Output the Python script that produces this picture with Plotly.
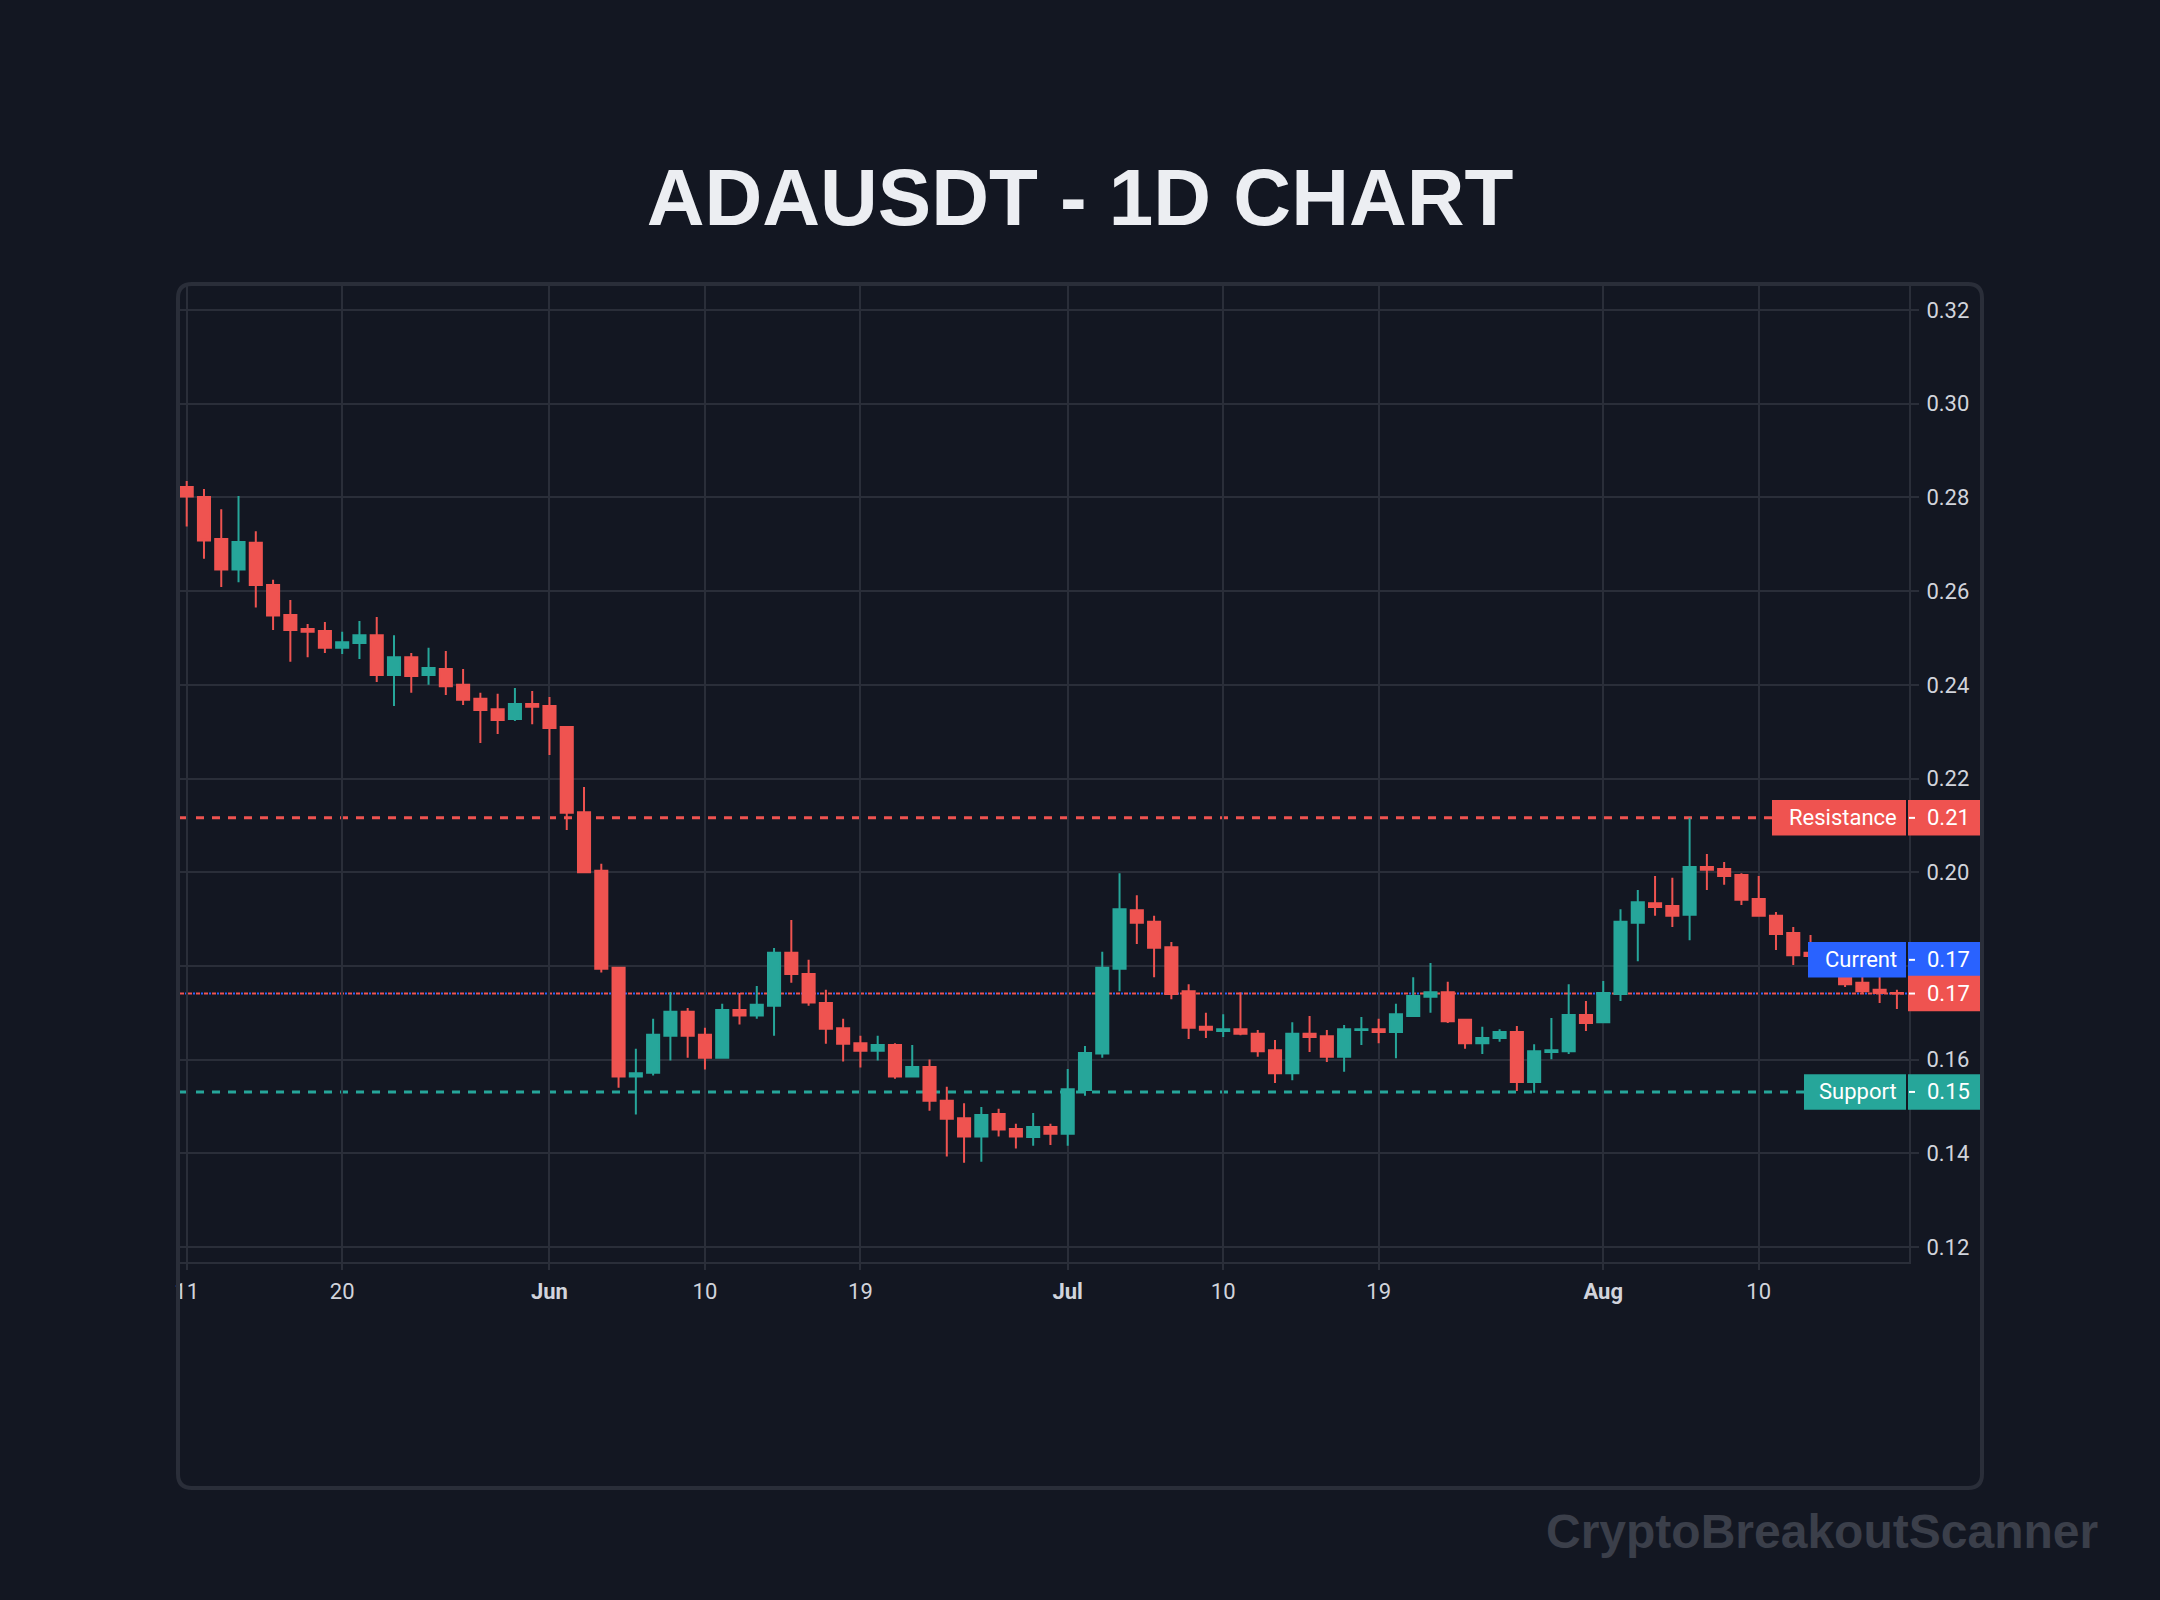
import pandas as pd
import plotly.graph_objects as go

# ---------------- data ----------------
START_DATE = "2024-05-11"
N_DAYS = 100
DATES = pd.date_range(START_DATE, periods=N_DAYS, freq="D")

OPEN = [0.2822, 0.2801, 0.2711, 0.2646, 0.2703, 0.2613, 0.2549, 0.2519, 0.2515, 0.2479,
        0.2489, 0.2506, 0.2421, 0.2459, 0.2421, 0.2434, 0.2400, 0.2370, 0.2348, 0.2327,
        0.2359, 0.2355, 0.2310, 0.2128, 0.2003, 0.1796, 0.1564, 0.1572, 0.1651, 0.1702,
        0.1653, 0.1604, 0.1706, 0.1694, 0.1715, 0.1828, 0.1783, 0.1721, 0.1667, 0.1635,
        0.1619, 0.1631, 0.1564, 0.1584, 0.1512, 0.1475, 0.1436, 0.1484, 0.1452, 0.1435,
        0.1456, 0.1442, 0.1535, 0.1613, 0.1794, 0.1919, 0.1894, 0.1840, 0.1746, 0.1670,
        0.1661, 0.1665, 0.1655, 0.1620, 0.1571, 0.1655, 0.1650, 0.1606, 0.1663, 0.1665,
        0.1659, 0.1693, 0.1734, 0.1744, 0.1685, 0.1635, 0.1646, 0.1659, 0.1552, 0.1616,
        0.1618, 0.1695, 0.1680, 0.1740, 0.1892, 0.1934, 0.1928, 0.1909, 0.2011, 0.2007,
        0.1994, 0.1943, 0.1907, 0.1870, 0.1828, 0.1823, 0.1800, 0.1764, 0.1749, 0.1742]
HIGH = [0.2835, 0.2818, 0.2775, 0.2803, 0.2728, 0.2624, 0.2581, 0.2530, 0.2534, 0.2513,
        0.2536, 0.2545, 0.2506, 0.2468, 0.2479, 0.2472, 0.2434, 0.2383, 0.2381, 0.2393,
        0.2387, 0.2374, 0.2312, 0.2182, 0.2018, 0.1796, 0.1623, 0.1687, 0.1744, 0.1710,
        0.1668, 0.1719, 0.1742, 0.1757, 0.1838, 0.1898, 0.1813, 0.1749, 0.1687, 0.1651,
        0.1651, 0.1635, 0.1631, 0.1600, 0.1542, 0.1507, 0.1499, 0.1495, 0.1463, 0.1486,
        0.1463, 0.1580, 0.1629, 0.1830, 0.1998, 0.1951, 0.1907, 0.1851, 0.1761, 0.1700,
        0.1697, 0.1744, 0.1663, 0.1642, 0.1680, 0.1693, 0.1663, 0.1674, 0.1691, 0.1687,
        0.1719, 0.1776, 0.1806, 0.1766, 0.1685, 0.1670, 0.1665, 0.1672, 0.1633, 0.1689,
        0.1761, 0.1725, 0.1768, 0.1921, 0.1962, 0.1992, 0.1988, 0.2116, 0.2039, 0.2022,
        0.1998, 0.1992, 0.1915, 0.1883, 0.1866, 0.1834, 0.1817, 0.1791, 0.1778, 0.1749]
LOW = [0.2738, 0.2669, 0.2609, 0.2619, 0.2565, 0.2517, 0.2449, 0.2459, 0.2468, 0.2466,
       0.2455, 0.2406, 0.2355, 0.2383, 0.2400, 0.2378, 0.2357, 0.2276, 0.2295, 0.2323,
       0.2316, 0.2250, 0.2090, 0.1998, 0.1786, 0.1540, 0.1483, 0.1566, 0.1598, 0.1604,
       0.1579, 0.1604, 0.1675, 0.1687, 0.1651, 0.1764, 0.1715, 0.1634, 0.1596, 0.1583,
       0.1598, 0.1559, 0.1564, 0.1491, 0.1393, 0.1380, 0.1382, 0.1436, 0.1410, 0.1416,
       0.1418, 0.1416, 0.1523, 0.1604, 0.1746, 0.1847, 0.1776, 0.1729, 0.1644, 0.1646,
       0.1648, 0.1652, 0.1606, 0.1550, 0.1556, 0.1616, 0.1595, 0.1574, 0.1631, 0.1635,
       0.1603, 0.1691, 0.1700, 0.1678, 0.1623, 0.1612, 0.1638, 0.1533, 0.1529, 0.1601,
       0.1612, 0.1661, 0.1680, 0.1725, 0.1810, 0.1907, 0.1883, 0.1855, 0.1962, 0.1973,
       0.1930, 0.1905, 0.1834, 0.1802, 0.1800, 0.1778, 0.1755, 0.1740, 0.1721, 0.1708]
CLOSE = [0.2802, 0.2708, 0.2646, 0.2705, 0.2613, 0.2548, 0.2517, 0.2513, 0.2479, 0.2491,
         0.2506, 0.2421, 0.2459, 0.2419, 0.2436, 0.2397, 0.2368, 0.2346, 0.2325, 0.2359,
         0.2353, 0.2308, 0.2127, 0.2000, 0.1794, 0.1564, 0.1571, 0.1653, 0.1702, 0.1651,
         0.1604, 0.1706, 0.1694, 0.1717, 0.1828, 0.1783, 0.1722, 0.1666, 0.1634, 0.1619,
         0.1631, 0.1564, 0.1584, 0.1512, 0.1474, 0.1436, 0.1482, 0.1451, 0.1436, 0.1456,
         0.1442, 0.1537, 0.1614, 0.1796, 0.1921, 0.1892, 0.1839, 0.1740, 0.1668, 0.1664,
         0.1665, 0.1655, 0.1618, 0.1571, 0.1655, 0.1648, 0.1606, 0.1665, 0.1665, 0.1659,
         0.1697, 0.1736, 0.1744, 0.1682, 0.1635, 0.1646, 0.1659, 0.1552, 0.1618, 0.1620,
         0.1695, 0.1678, 0.1742, 0.1894, 0.1936, 0.1926, 0.1907, 0.2011, 0.2005, 0.1992,
         0.1941, 0.1907, 0.1868, 0.1823, 0.1821, 0.1798, 0.1761, 0.1746, 0.1742, 0.1741]

RESISTANCE = 0.2116
SUPPORT = 0.1531
CURRENT = 0.1741
LAST_CLOSE = CLOSE[-1]

X_TICK_DATES = ["2024-05-11", "2024-05-20", "2024-06-01", "2024-06-10", "2024-06-19",
                "2024-07-01", "2024-07-10", "2024-07-19", "2024-08-01", "2024-08-10"]
X_TICK_TEXT = ["11", "20", "<b>Jun</b>", "10", "19", "<b>Jul</b>", "10", "19", "<b>Aug</b>", "10"]
Y_TICKS = [0.12, 0.14, 0.16, 0.18, 0.20, 0.22, 0.24, 0.26, 0.28, 0.30, 0.32]
# 0.18 sits under the "Current" price label in the reference, so its text is hidden
Y_TICK_TEXT = ["0.12", "0.14", "0.16", "", "0.20", "0.22", "0.24", "0.26", "0.28", "0.30", "0.32"]

TITLE = "ADAUSDT - 1D CHART"
WATERMARK = "CryptoBreakoutScanner"

# ---------------- style ----------------
BG = "#131722"
GRID = "#2a2e39"
TXT = "#d1d4dc"
UP = "#26a69a"
DN = "#ef5350"
BLUE = "#2962ff"
AXFONT = "Roboto, Liberation Sans, Arial, sans-serif"
FS = 22

W, H = 2160, 1600
ML, MR, MT, MB = 180, 251, 285, 338
PW = W - ML - MR
PH = H - MT - MB

fig = go.Figure()
fig.add_trace(go.Candlestick(
    x=DATES, open=OPEN, high=HIGH, low=LOW, close=CLOSE,
    increasing=dict(line=dict(color=UP, width=2), fillcolor=UP),
    decreasing=dict(line=dict(color=DN, width=2), fillcolor=DN),
    whiskerwidth=0, showlegend=False, hoverinfo="skip",
))

x0 = pd.Timestamp(START_DATE) - pd.Timedelta(days=0.388)
x1 = pd.Timestamp(START_DATE) + pd.Timedelta(days=99.70)

shapes = []
# support / resistance lines
shapes.append(dict(type="line", xref="paper", x0=0, x1=1, yref="y", y0=RESISTANCE, y1=RESISTANCE,
                   line=dict(color=DN, width=3, dash="8px,8px"), layer="between"))
shapes.append(dict(type="line", xref="paper", x0=0, x1=1, yref="y", y0=SUPPORT, y1=SUPPORT,
                   line=dict(color=UP, width=3, dash="8px,8px"), layer="between"))
# current price (blue dotted) and last price (red dashed)
shapes.append(dict(type="line", xref="paper", x0=0, x1=1, yref="y", y0=CURRENT, y1=CURRENT,
                   line=dict(color=BLUE, width=2, dash="0px,5px,2px,1px"), layer="between"))
shapes.append(dict(type="line", xref="paper", x0=0, x1=1, yref="y", y0=LAST_CLOSE, y1=LAST_CLOSE,
                   line=dict(color=DN, width=2, dash="4px,4px"), layer="between"))


def label_price(price, color, dy=0.0):
    hh = 17.75
    shapes.append(dict(type="rect", xref="paper", xsizemode="pixel", xanchor=1, x0=-1, x1=71,
                       yref="y", ysizemode="pixel", yanchor=price, y0=dy - hh, y1=dy + hh,
                       fillcolor=color, line=dict(width=0), layer="above"))
    shapes.append(dict(type="line", xref="paper", xsizemode="pixel", xanchor=1, x0=0, x1=6,
                       yref="y", ysizemode="pixel", yanchor=price, y0=dy, y1=dy,
                       line=dict(color="#ffffff", width=2), layer="above"))
    fig.add_annotation(xref="paper", x=1, xanchor="left", xshift=17,
                       yref="y", y=price, yanchor="middle", yshift=dy,
                       text=f"{price:.2f}", showarrow=False, borderpad=0,
                       font=dict(family=AXFONT, size=FS, color="#ffffff"))


def label_boxes(price, name, color, left_px, dy=0.0):
    hh = 17.75
    shapes.append(dict(type="rect", xref="paper", xsizemode="pixel", xanchor=1, x0=-left_px, x1=-3,
                       yref="y", ysizemode="pixel", yanchor=price, y0=dy - hh, y1=dy + hh,
                       fillcolor=color, line=dict(width=0), layer="above"))
    label_price(price, color, dy)
    fig.add_annotation(xref="paper", x=1, xanchor="right", xshift=-11,
                       yref="y", y=price, yanchor="middle", yshift=dy,
                       text=name, showarrow=False, borderpad=0,
                       font=dict(family=AXFONT, size=FS, color="#ffffff"))


label_boxes(RESISTANCE, "Resistance", DN, 137)
label_boxes(SUPPORT, "Support", UP, 105)
label_boxes(CURRENT, "Current", BLUE, 101, dy=33.7)
label_price(LAST_CLOSE, DN)


# container border (rounded rectangle) in paper coords
def px(xp):
    return (xp - ML) / PW


def py(yp):
    return (MT + PH - yp) / PH


L, R, T, B, r = 178, 1982, 284, 1488, 14
path = (f"M {px(L + r)},{py(T)} L {px(R - r)},{py(T)} Q {px(R)},{py(T)} {px(R)},{py(T + r)} "
        f"L {px(R)},{py(B - r)} Q {px(R)},{py(B)} {px(R - r)},{py(B)} "
        f"L {px(L + r)},{py(B)} Q {px(L)},{py(B)} {px(L)},{py(B - r)} "
        f"L {px(L)},{py(T + r)} Q {px(L)},{py(T)} {px(L + r)},{py(T)} Z")
shapes.append(dict(type="path", xref="paper", yref="paper", path=path,
                   line=dict(color=GRID, width=4), layer="above"))

fig.add_annotation(xref="paper", x=1, xanchor="right", xshift=2100 - (ML + PW),
                   yref="paper", y=0, yanchor="middle", yshift=-(1531 - (MT + PH)),
                   text=WATERMARK, showarrow=False,
                   font=dict(family="Liberation Sans, Arial, sans-serif", size=48,
                             color="#3b3f4a", weight=700))

fig.update_layout(
    width=W, height=H,
    margin=dict(l=ML, r=MR, t=MT, b=MB, autoexpand=False),
    paper_bgcolor=BG, plot_bgcolor=BG,
    boxgap=0.3, boxgroupgap=0,
    title=dict(text=TITLE, x=0.5, xref="container", xanchor="center",
               y=1 - 196.5 / H, yref="container", yanchor="middle",
               font=dict(family="Liberation Sans, Arial, sans-serif", size=80,
                         color="#eceef2", weight=700)),
    shapes=shapes,
    xaxis=dict(type="date", range=[x0, x1], rangeslider=dict(visible=False),
               tickvals=X_TICK_DATES, ticktext=X_TICK_TEXT,
               showgrid=True, gridcolor=GRID, gridwidth=2,
               showline=True, linecolor=GRID, linewidth=2,
               ticks="outside", ticklen=6, tickcolor=GRID, tickwidth=2,
               ticklabelstandoff=3,
               tickfont=dict(family=AXFONT, size=FS, color=TXT),
               zeroline=False, fixedrange=True),
    yaxis=dict(side="right", range=[0.1168, 0.32534], tickvals=Y_TICKS, ticktext=Y_TICK_TEXT,
               showgrid=True, gridcolor=GRID, gridwidth=2,
               showline=True, linecolor=GRID, linewidth=2,
               ticks="outside", ticklen=8, tickcolor=GRID, tickwidth=2,
               ticklabelstandoff=3,
               tickfont=dict(family=AXFONT, size=FS, color=TXT),
               zeroline=False, fixedrange=True),
)

fig.write_html("out.html", config={"displayModeBar": False},
               post_script="document.body.style.margin='0px';"
                           "document.body.style.background='#131722';")
